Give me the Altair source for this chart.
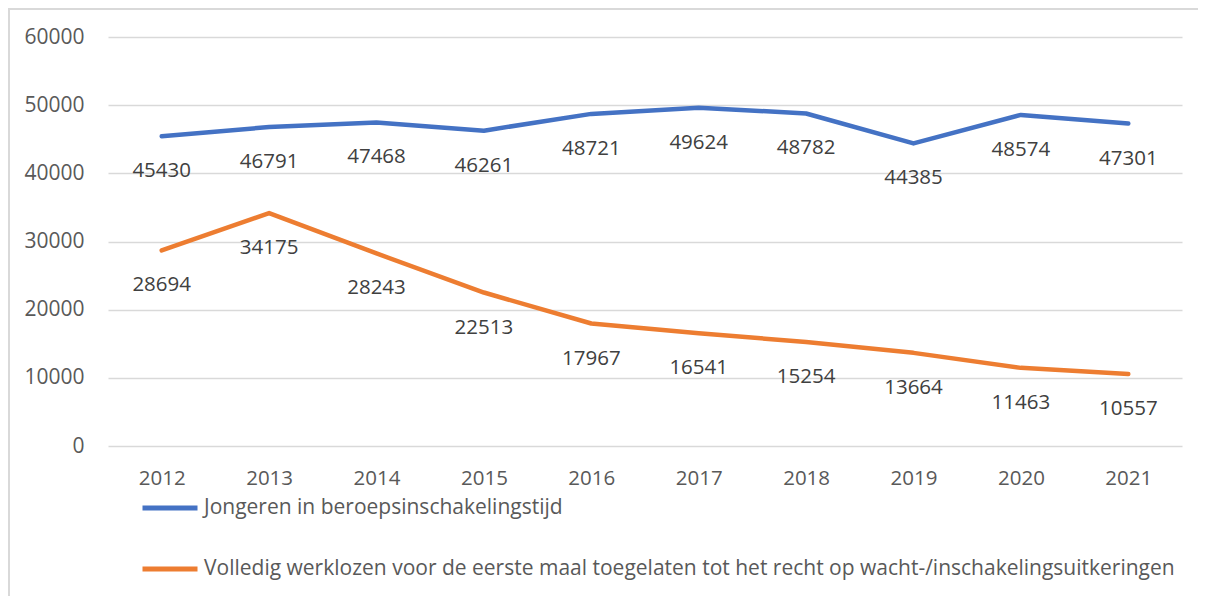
import altair as alt
import pandas as pd

years = ["2012", "2013", "2014", "2015", "2016", "2017", "2018", "2019", "2020", "2021"]
jongeren = [45430, 46791, 47468, 46261, 48721, 49624, 48782, 44385, 48574, 47301]
volledig = [28694, 34175, 28243, 22513, 17967, 16541, 15254, 13664, 11463, 10557]
series_names = [
    "Jongeren in beroepsinschakelingstijd",
    "Volledig werklozen voor de eerste maal toegelaten tot het recht op wacht-/inschakelingsuitkeringen",
]
colors = ["#4472C4", "#ED7D31"]

rows = []
for i, y in enumerate(years):
    rows.append({"jaar": y, "reeks": series_names[0], "waarde": jongeren[i]})
    rows.append({"jaar": y, "reeks": series_names[1], "waarde": volledig[i]})
df = pd.DataFrame(rows)

FONT = "Open Sans"

x_enc = alt.X("jaar:O", sort=years, scale=alt.Scale(type="point", padding=0.5),
              axis=alt.Axis(title=None, labelAngle=0, domain=False, ticks=False,
                            labelPadding=22, labelFontSize=20.5, labelColor="#595959",
                            labelFont=FONT, grid=False))
y_enc = alt.Y("waarde:Q", scale=alt.Scale(domain=[0, 60000], nice=False),
              axis=alt.Axis(title=None, values=[0, 10000, 20000, 30000, 40000, 50000, 60000],
                            format="d", domain=False, ticks=False, labelPadding=24,
                            labelFontSize=21, labelColor="#595959", labelFont=FONT,
                            gridColor="#D9D9D9", gridWidth=1.5))
color_enc = alt.Color("reeks:N", sort=series_names,
                      scale=alt.Scale(domain=series_names, range=colors),
                      legend=alt.Legend(title=None, orient="none", legendX=32, legendY=441,
                                        direction="vertical", symbolType="stroke",
                                        symbolStrokeWidth=5, symbolSize=3025,
                                        labelFontSize=21, labelFont=FONT, labelColor="#595959",
                                        labelLimit=1200, rowPadding=21, labelOffset=4))

lines = alt.Chart(df).mark_line(strokeWidth=4.5, strokeCap="round", strokeJoin="round").encode(
    x=x_enc, y=y_enc, color=color_enc)

labels = alt.Chart(df).mark_text(dy=35, fontSize=20.5, font=FONT, color="#404040",
                                 baseline="middle", align="center").encode(
    x=alt.X("jaar:O", sort=years), y=alt.Y("waarde:Q"), text=alt.Text("waarde:Q", format="d"))

border_df = pd.DataFrame({"a": [0]})
border = alt.Chart(border_df).mark_rect(fill="transparent", stroke="#D9D9D9", strokeWidth=2).encode(
    x=alt.value(-99), x2=alt.value(1140), y=alt.value(-28), y2=alt.value(600))

chart = alt.layer(border, lines, labels).properties(
    width=1074, height=409,
    padding={"left": 100, "top": 29, "right": 16, "bottom": 150},
    autosize=alt.AutoSizeParams(type="none"),
).configure_view(stroke=None)

chart.save("out.html", embed_options={"renderer": "svg", "actions": False})
